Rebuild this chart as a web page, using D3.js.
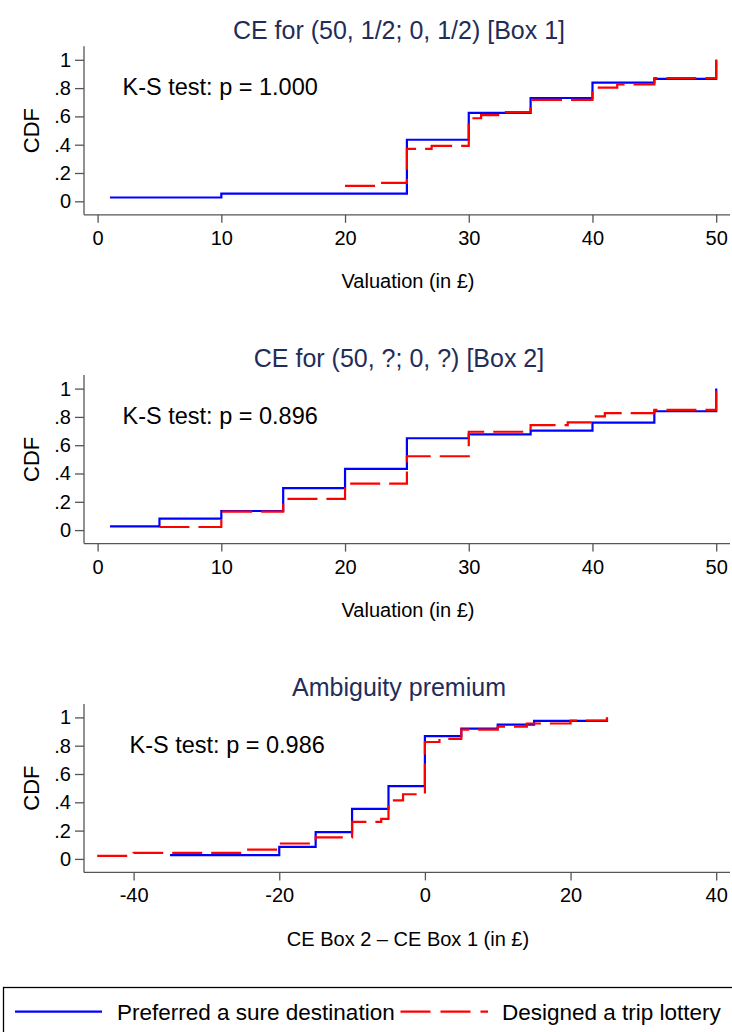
<!DOCTYPE html>
<html lang="en">
<head>
<meta charset="utf-8">
<title>CDF of certainty equivalents</title>
<script src="https://d3js.org/d3.v7.min.js"></script>
<style>
  body { margin: 0; background: #fff; }
  text { font-family: "Liberation Sans", Arial, Helvetica, sans-serif; }
</style>
</head>
<body>
<script>
// panel texts
var panelTitles = ["CE for (50, 1/2; 0, 1/2) [Box 1]", "CE for (50, ?; 0, ?) [Box 2]", "Ambiguity premium"];
var ksLabels = ["K-S test: p = 1.000", "K-S test: p = 0.896", "K-S test: p = 0.986"];
var xTitles = ["Valuation (in \u00a3)", "Valuation (in \u00a3)", "CE Box 2 \u2013 CE Box 1 (in \u00a3)"];
var seriesNames = ["Preferred a sure destination", "Designed a trip lottery"];

// tick values
var yTicks = [0, 0.2, 0.4, 0.6, 0.8, 1];
var yTickLabels = ["0", ".2", ".4", ".6", ".8", "1"];
var xTicksCE = [0, 10, 20, 30, 40, 50];
var xTicksPremium = [-40, -20, 0, 20, 40];

// Box 1 CDFs
var box1SureX = [1, 10, 25, 30, 35, 40, 45, 50];
var box1SureY = [0.027, 0.054, 0.435, 0.625, 0.730, 0.838, 0.865, 1];
var box1LotX = [20, 23, 25, 27, 30, 31, 33, 35, 40, 42, 45, 50];
var box1LotY = [0.109, 0.130, 0.370, 0.391, 0.587, 0.609, 0.630, 0.717, 0.804, 0.826, 0.870, 1];

// Box 2 CDFs
var box2SureX = [1, 5, 10, 15, 20, 25, 30, 35, 40, 45, 50];
var box2SureY = [0.027, 0.081, 0.135, 0.297, 0.432, 0.649, 0.676, 0.703, 0.760, 0.840, 1];
var box2LotX = [5, 10, 15, 20, 25, 30, 35, 38, 40, 41, 45, 50];
var box2LotY = [0.022, 0.130, 0.220, 0.328, 0.522, 0.695, 0.742, 0.762, 0.804, 0.826, 0.849, 1];

// ambiguity premium CDFs
var premSureX = [-35, -20, -15, -10, -5, 0, 5, 10, 15, 25];
var premSureY = [0.027, 0.085, 0.189, 0.353, 0.515, 0.868, 0.921, 0.949, 0.975, 1];
var premLotX = [-45, -40, -25, -20, -15, -10, -6, -5, -3, 0, 2, 5, 10, 14, 20, 25];
var premLotY = [0.022, 0.043, 0.065, 0.109, 0.152, 0.261, 0.283, 0.413, 0.457, 0.826, 0.848, 0.913, 0.935, 0.957, 0.978, 1];

var w = 732, h = 1032;
var left = 84, right = 730;
var blue = "#0000ff", red = "#ff0000";
var dash = "30,9";
var axisColor = "#555";
var titleColor = "#1f2d58";

var svg = d3.select("body").append("svg")
  .attr("width", w)
  .attr("height", h);

function zip(xs, ys) {
  return xs.map(function(x, i) { return [x, ys[i]]; });
}

function drawPanel(k, xDomain, xRange, xTicks, sure, lottery, ksX) {
  var y0 = 201.3 + 328.8 * k;
  var yScale = d3.scaleLinear().domain([0, 1]).range([y0, y0 - 141.5]);
  var xScale = d3.scaleLinear().domain(xDomain).range(xRange);
  var axisY = y0 + 13.5;

  var g = svg.append("g");

  // title
  g.append("text")
    .attr("x", 399).attr("y", y0 - 171.5)
    .attr("dy", "0.35em")
    .attr("text-anchor", "middle")
    .attr("font-size", "25px")
    .attr("fill", titleColor)
    .text(panelTitles[k]);

  // y axis
  var yAxis = d3.axisLeft(yScale)
    .tickValues(yTicks)
    .tickFormat(function(d, i) { return yTickLabels[i]; })
    .tickSize(9).tickSizeOuter(0).tickPadding(4);
  var gy = g.append("g")
    .attr("transform", "translate(" + left + ",0)")
    .call(yAxis);
  gy.select(".domain").remove();
  gy.selectAll("line").attr("stroke", axisColor).attr("stroke-width", 1.3);
  gy.selectAll("text").attr("font-size", "20px").attr("fill", "#000")
    .attr("font-family", "'Liberation Sans', Arial, Helvetica, sans-serif");
  g.append("line")
    .attr("x1", left).attr("x2", left)
    .attr("y1", y0 - 155).attr("y2", axisY)
    .attr("stroke", axisColor).attr("stroke-width", 1.3);

  // x axis (plain hyphen for negatives, like the original)
  var xAxis = d3.axisBottom(xScale)
    .tickValues(xTicks)
    .tickFormat(function(d) { return String(d); })
    .tickSize(8).tickSizeOuter(0);
  var gx = g.append("g")
    .attr("transform", "translate(0," + axisY + ")")
    .call(xAxis);
  gx.select(".domain").remove();
  gx.selectAll("line").attr("stroke", axisColor).attr("stroke-width", 1.3);
  gx.selectAll("text")
    .attr("y", 23).attr("dy", "0.35em")
    .attr("font-size", "20px").attr("fill", "#000")
    .attr("font-family", "'Liberation Sans', Arial, Helvetica, sans-serif");
  g.append("line")
    .attr("x1", left).attr("x2", right)
    .attr("y1", axisY).attr("y2", axisY)
    .attr("stroke", axisColor).attr("stroke-width", 1.3);

  // axis titles
  g.append("text")
    .attr("transform", "translate(31," + (y0 - 70.75) + ") rotate(-90)")
    .attr("dy", "0.35em")
    .attr("text-anchor", "middle")
    .attr("font-size", "22px")
    .text("CDF");
  g.append("text")
    .attr("x", 408).attr("y", axisY + 66.5)
    .attr("dy", "0.35em")
    .attr("text-anchor", "middle")
    .attr("font-size", "20px")
    .text(xTitles[k]);

  // K-S note
  g.append("text")
    .attr("x", ksX).attr("y", y0 - 114.5)
    .attr("dy", "0.35em")
    .attr("font-size", "23.5px")
    .text(ksLabels[k]);

  var line = d3.line()
    .x(function(d) { return xScale(d[0]); })
    .y(function(d) { return yScale(d[1]); })
    .curve(d3.curveStepAfter);

  g.append("path")
    .datum(sure)
    .attr("d", line)
    .attr("fill", "none")
    .attr("stroke", blue)
    .attr("stroke-width", 2.2);

  g.append("path")
    .datum(lottery)
    .attr("d", line)
    .attr("fill", "none")
    .attr("stroke", red)
    .attr("stroke-width", 2.2)
    .attr("stroke-dasharray", dash);
}

drawPanel(0, [0, 50], [97.6, 716.2], xTicksCE, zip(box1SureX, box1SureY), zip(box1LotX, box1LotY), 122.5);
drawPanel(1, [0, 50], [97.6, 716.2], xTicksCE, zip(box2SureX, box2SureY), zip(box2LotX, box2LotY), 122.5);
drawPanel(2, [-40, 40], [133.6, 716.2], xTicksPremium, zip(premSureX, premSureY), zip(premLotX, premLotY), 129.5);

// legend
var legend = svg.append("g");
legend.append("rect")
  .attr("x", 3.5).attr("y", 987.5)
  .attr("width", 740).attr("height", 60)
  .attr("fill", "none")
  .attr("stroke", "#000")
  .attr("stroke-width", 1.3);
var legendY = 1011.7;
legend.append("line")
  .attr("x1", 15).attr("x2", 102)
  .attr("y1", legendY).attr("y2", legendY)
  .attr("stroke", blue).attr("stroke-width", 2.2);
legend.append("text")
  .attr("x", 117).attr("y", legendY)
  .attr("dy", "0.35em")
  .attr("font-size", "22.5px")
  .text(seriesNames[0]);
legend.append("line")
  .attr("x1", 400.5).attr("x2", 488)
  .attr("y1", legendY).attr("y2", legendY)
  .attr("stroke", red).attr("stroke-width", 2.2)
  .attr("stroke-dasharray", "30,10");
legend.append("text")
  .attr("x", 502).attr("y", legendY)
  .attr("dy", "0.35em")
  .attr("font-size", "22.5px")
  .text(seriesNames[1]);
</script>
</body>
</html>
